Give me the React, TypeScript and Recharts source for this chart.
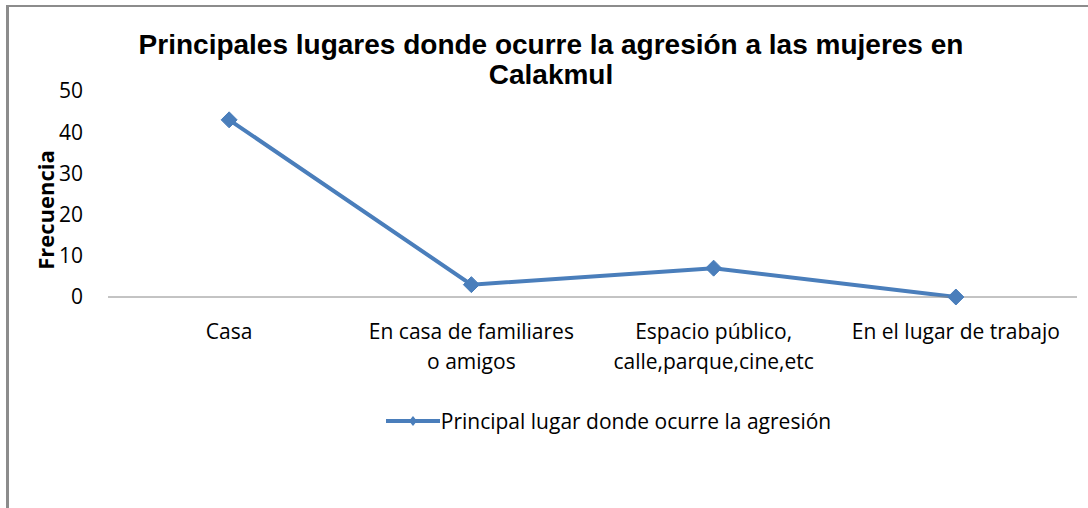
import React from "react";
import { LineChart, Line, XAxis, YAxis, Legend } from "recharts";

const categories = [
  "Casa",
  "En casa de familiares\no amigos",
  "Espacio público,\ncalle,parque,cine,etc",
  "En el lugar de trabajo",
];
const values = [43, 3, 7, 0];
const yTicks = [0, 10, 20, 30, 40, 50];
const seriesName = "Principal lugar donde ocurre la agresión";
const titleLines = ["Principales lugares donde ocurre la agresión a las mujeres en", "Calakmul"];
const yLabel = "Frecuencia";

const data = categories.map((c, i) => ({ name: c, value: values[i] }));

const COLOR = "#4A7EBB";
const FONT = "'Open Sans', Lato, sans-serif";

const XTick = (props: any) => {
  const { x, y, payload } = props;
  const lines = String(payload.value).split("\n");
  return (
    <text x={x} y={y} textAnchor="middle" fill="#000" fontSize={21} fontFamily={FONT}>
      {lines.map((l: string, i: number) => (
        <tspan key={i} x={x} dy={i === 0 ? 34 : 30}>
          {l}
        </tspan>
      ))}
    </text>
  );
};

const Diamond = (props: any) => {
  const { cx, cy } = props;
  if (cx == null || cy == null) return null;
  const r = 8;
  return (
    <path
      d={`M${cx},${cy - r}L${cx + r},${cy}L${cx},${cy + r}L${cx - r},${cy}Z`}
      fill={COLOR}
      stroke={COLOR}
      strokeWidth={1}
      strokeLinejoin="round"
    />
  );
};

const YLabel = (props: any) => {
  const vb = props.viewBox || {};
  const x = (vb.x ?? 48) - 3;
  const y = (vb.y ?? 91) + (vb.height ?? 206) / 2 + 16;
  return (
    <text
      x={x}
      y={y}
      transform={`rotate(-90, ${x}, ${y})`}
      textAnchor="middle"
      dominantBaseline="central"
      fontFamily={FONT}
      fontWeight="bold"
      fontSize={22}
      fill="#000"
    >
      {yLabel}
    </text>
  );
};

const LegendContent = (props: any) => {
  const { payload } = props;
  return (
    <div style={{ display: "flex", justifyContent: "center", alignItems: "center", height: 22 }}>
      {(payload || []).map((p: any, i: number) => (
        <div key={i} style={{ display: "flex", alignItems: "center" }}>
          <svg width={56} height={14} style={{ marginRight: 0 }}>
            <line x1={1} y1={7} x2={55} y2={7} stroke={COLOR} strokeWidth={4} />
            <path d="M28,2L32,7L28,12L24,7Z" fill={COLOR} />
          </svg>
          <span style={{ fontFamily: FONT, fontSize: 21, color: "#000", lineHeight: "22px" }}>{p.value}</span>
        </div>
      ))}
    </div>
  );
};

export default function App() {
  return (
    <div style={{ position: "absolute", left: 0, top: 0, width: 1088, height: 508, background: "#fff", overflow: "hidden" }}>
      <div
        style={{
          position: "absolute",
          left: 6,
          top: 5,
          right: 0,
          bottom: -5,
          borderTop: "2px solid #8c8c8c",
          borderLeft: "3px solid #8c8c8c",
        }}
      />
      <div
        style={{
          position: "absolute",
          left: 0,
          width: 1102,
          top: 30,
          textAlign: "center",
          fontFamily: "'Liberation Sans', Arial, sans-serif",
          fontWeight: "bold",
          fontSize: 28,
          lineHeight: "30px",
          color: "#000",
        }}
      >
        {titleLines.map((t, i) => (
          <div key={i}>{t}</div>
        ))}
      </div>
      <div style={{ position: "absolute", left: 0, top: 0 }}>
        <LineChart
          width={1088}
          height={508}
          data={data}
          margin={{ top: 91, right: 11, bottom: 89, left: 48 }}
        >
          <XAxis
            dataKey="name"
            scale="band"
            axisLine={{ stroke: "#888", strokeWidth: 1 }}
            tickLine={false}
            tick={<XTick />}
            interval={0}
            height={100}
          />
          <YAxis
            domain={[0, 50]}
            ticks={yTicks}
            width={60}
            axisLine={false}
            tickLine={false}
            tickSize={0}
            tickMargin={25}
            tick={{ fill: "#000", fontSize: 21, fontFamily: FONT }}
            label={<YLabel />}
          />
          <Legend
            verticalAlign="bottom"
            content={<LegendContent />}
            wrapperStyle={{ top: 410, left: 128, width: 960 }}
          />
          <Line
            type="linear"
            dataKey="value"
            name={seriesName}
            stroke={COLOR}
            strokeWidth={4}
            dot={<Diamond />}
            activeDot={false}
            isAnimationActive={false}
          />
        </LineChart>
      </div>
    </div>
  );
}
